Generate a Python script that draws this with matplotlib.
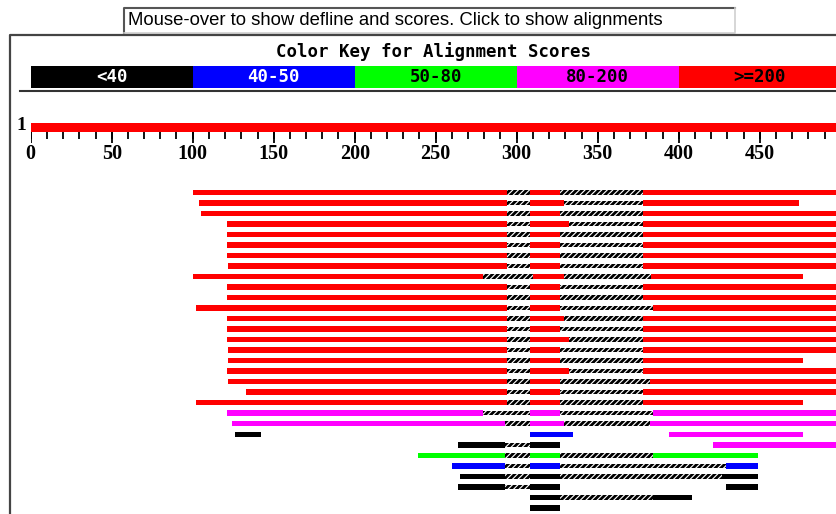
import matplotlib
matplotlib.use("Agg")
import matplotlib.pyplot as plt
import numpy as np
from matplotlib.patches import Rectangle

# color key
key_labels = ["<40", "40-50", "50-80", "80-200", ">=200"]
key_colors = ["#000000", "#0000ff", "#00ff00", "#ff00ff", "#ff0000"]
key_text_colors = ["white", "white", "black", "black", "black"]

query_length = 500
tick_major = np.arange(0, 500, 50)
tick_minor = np.arange(0, 500, 10)

# hits: row, color, aligned segments (query coords); hatch joins segments of one hit
hit_rows = list(range(23)) + [23, 23, 23, 24, 24, 25, 26, 27, 28, 28, 29, 30]
hit_colors = ["red"] * 21 + ["magenta", "magenta",
              "black", "blue", "magenta", "black", "magenta", "lime", "blue",
              "black", "black", "black", "black", "black"]
hit_segments = [
    [(100, 294), (308, 327), (378, 500)],
    [(104, 294), (308, 329), (378, 474)],
    [(105, 294), (308, 327), (378, 500)],
    [(121, 294), (308, 332), (378, 500)],
    [(121, 294), (308, 327), (378, 500)],
    [(121, 294), (308, 327), (378, 500)],
    [(121, 294), (308, 327), (378, 500)],
    [(122, 294), (308, 327), (378, 500)],
    [(100, 279), (310, 329), (383, 477)],
    [(121, 294), (308, 327), (378, 500)],
    [(121, 294), (308, 327), (378, 500)],
    [(102, 294), (308, 327), (384, 500)],
    [(121, 294), (308, 329), (378, 500)],
    [(121, 294), (308, 327), (378, 500)],
    [(121, 294), (308, 332), (378, 500)],
    [(122, 294), (308, 327), (378, 500)],
    [(122, 294), (308, 327), (378, 477)],
    [(121, 294), (308, 332), (378, 500)],
    [(122, 294), (308, 327), (382, 500)],
    [(133, 294), (308, 327), (378, 500)],
    [(102, 294), (308, 327), (378, 477)],
    [(121, 279), (308, 327), (384, 500)],
    [(124, 293), (308, 329), (382, 500)],
    [(126, 142)],
    [(308, 335)],
    [(394, 477)],
    [(264, 293), (308, 327)],
    [(421, 500)],
    [(239, 293), (308, 327), (384, 449)],
    [(260, 293), (308, 327), (429, 449)],
    [(265, 293), (308, 327), (427, 449)],
    [(264, 293), (308, 327)],
    [(429, 449)],
    [(308, 327), (384, 408)],
    [(308, 327)],
]

W, H = 836, 514
X0 = 30.7          # pixel of query position 0
PPU = 1.62         # pixels per residue
ROW0, ROW_STEP = 192.3, 10.52

plt.rcParams["hatch.linewidth"] = 2.0

fig = plt.figure(figsize=(W / 100, H / 100), dpi=100)
fig.patch.set_facecolor("white")

# decoration layer in pixel coordinates
deco = fig.add_axes([0, 0, 1, 1])
deco.set_xlim(0, W)
deco.set_ylim(H, 0)
deco.axis("off")

# mouse-over text box
deco.add_patch(Rectangle((124, 8), 611, 25, facecolor="white", edgecolor="none"))
deco.plot([124, 124, 735], [33, 8, 8], color="#555555", lw=1.5)
deco.plot([124, 735, 735], [33, 33, 8], color="#d0d0d0", lw=1.2)
deco.text(128, 20.5, "Mouse-over to show defline and scores. Click to show alignments",
          fontsize=13.3, family="Liberation Sans", va="center", ha="left", color="black")

# panel border
deco.plot([10, 10, W], [H, 35, 35], color="#444444", lw=1.6)

deco.text(433, 52, "Color Key for Alignment Scores", fontsize=12.5, family="DejaVu Sans Mono",
          weight="bold", ha="center", va="center")
for i, (lab, c, tc) in enumerate(zip(key_labels, key_colors, key_text_colors)):
    deco.add_patch(Rectangle((X0 + 162 * i, 66), 162, 21.5, facecolor=c, edgecolor="none"))
    deco.text(X0 + 162 * i + 81, 77, lab, fontsize=12.5, family="DejaVu Sans Mono",
              weight="bold", color=tc, ha="center", va="center")
deco.plot([20, W], [90.5, 90.5], color="#333333", lw=1.5)
deco.text(21, 125, "1", fontsize=14, family="Liberation Serif", weight="bold",
          ha="center", va="center")

# data layer: x in query coordinates, y in pixels
ax = fig.add_axes([X0 / W, 0, (W - X0) / W, 1])
ax.set_xlim(0, (W - X0) / PPU)
ax.set_ylim(H, 0)
ax.axis("off")
ax.patch.set_alpha(0)

# query ruler
ax.barh(127.2, query_length, left=0, height=9, color="#ff0000", linewidth=0)
ax.vlines(tick_minor, 131.7, 138.5, color="black", lw=1.3)
ax.vlines(tick_major, 131.7, 142.5, color="black", lw=1.3)
for t in tick_major:
    ax.text(t, 154, str(t), fontsize=14.5, family="Liberation Serif", weight="bold",
            ha="center", va="center")

# alignments
for row, col, segs in zip(hit_rows, hit_colors, hit_segments):
    y = ROW0 + ROW_STEP * row
    for (a, b) in segs:
        ax.barh(y, b - a, left=a, height=5.5, color=col, linewidth=0)
    for (s1, s2) in zip(segs[:-1], segs[1:]):
        ax.barh(y, s2[0] - s1[1], left=s1[1], height=4.5, color="white",
                edgecolor="black", hatch="//////", linewidth=0)

fig.savefig("out.png", dpi=100)
